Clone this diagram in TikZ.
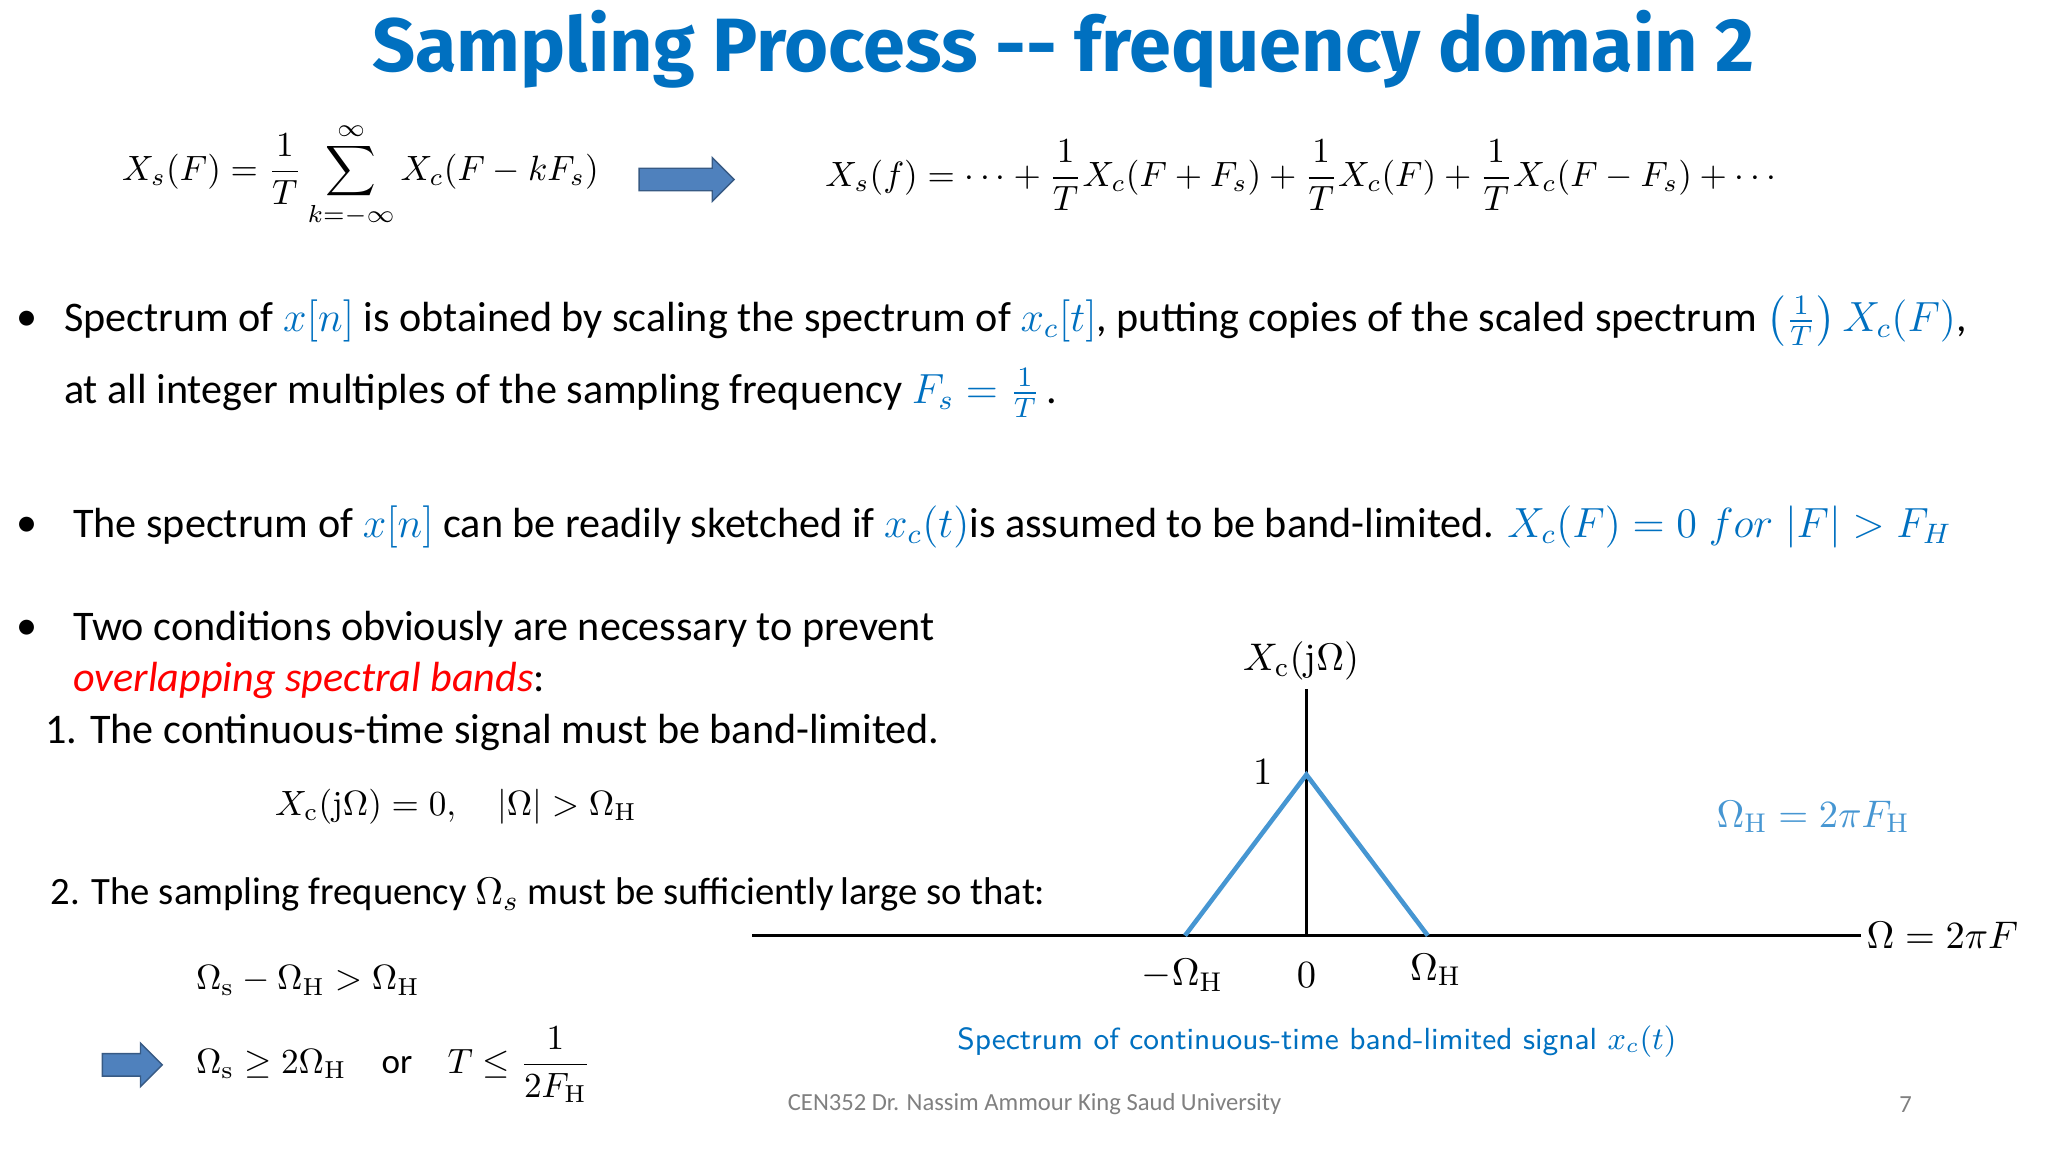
\documentclass[tikz,border=0pt]{standalone}
\usepackage{amsmath}
\usepackage{fontspec}
\setmainfont{Carlito}
\setmathrm{Latin Modern Roman}
\newfontfamily\titlefont{Fira Sans}
\usetikzlibrary{positioning, shapes.arrows}
\definecolor{slideblue}{RGB}{0,112,192}
\definecolor{plotblue}{RGB}{70,150,210}
\definecolor{arrowblue}{RGB}{79,129,189}
\tikzset{
  body/.style={anchor=west, inner sep=0pt, font=\fontsize{12}{14}\selectfont},
  eqn/.style={anchor=west, inner sep=0pt, font=\fontsize{10}{12}\selectfont},
  plotlabel/.style={font=\fontsize{11}{13}\selectfont},
  blockarrow/.style={single arrow, draw=arrowblue!70!black, fill=arrowblue, minimum height=#1, single arrow head extend=3pt, inner sep=3pt},
}
\newcommand{\bl}[1]{\textcolor{slideblue}{#1}}
\begin{document}
\begin{tikzpicture}[x=0.0132cm, y=-0.0132cm]
  \useasboundingbox (0,5) rectangle (1552,878);
  % Title
  \node (title) at (806,42) {\titlefont\bfseries\fontsize{21.5}{26}\selectfont\color{slideblue}Sampling Process -- frequency domain 2};

  % Equations
  \node (eqA) [eqn] at (92,138) {$X_s(F)=\dfrac{1}{T}\displaystyle\sum_{k=-\infty}^{\infty}X_c(F-kF_s)$};
  \node (arrowA) [blockarrow=0.95cm] at (516,141) {};
  \node (eqB) [eqn] at (625,138) {$X_s(f)=\cdots+\dfrac{1}{T}X_c(F+F_s)+\dfrac{1}{T}X_c(F)+\dfrac{1}{T}X_c(F-F_s)+\cdots$};

  % Bullets
  \node (dot1) [body] at (12,248) {•};
  \node (line1) [body] at (48,248) {Spectrum of \bl{$x[n]$} is obtained by scaling the spectrum of \bl{$x_c[t]$}, putting copies of the scaled spectrum \bl{$\left(\frac{1}{T}\right)X_c(F)$},};
  \node (line2) [body] at (48,303) {at all integer multiples of the sampling frequency \bl{$F_s=\frac{1}{T}$}\,.};
  \node (dot2) [body] at (12,404) {•};
  \node (line3) [body] at (55,404) {The spectrum of \bl{$x[n]$} can be readily sketched if \bl{$x_c(t)$}is assumed to be band-limited. \bl{$X_c(F)=0\;for\;|F|>F_H$}};
  \node (dot3) [body] at (12,482) {•};
  \node (line4) [body] at (55,482) {Two conditions obviously are necessary to prevent};
  \node (line5) [body] at (55,521) {\textcolor{red}{\itshape overlapping spectral bands}:};
  \node (cond1) [body] at (34,560) {1. The continuous-time signal must be band-limited.};
  \node (eqC) [eqn] at (208,616) {$X_{\mathrm c}(\mathrm j\Omega)=0,\quad |\Omega|>\Omega_{\mathrm H}$};
  \node (cond2) [body, font=\fontsize{11}{13}\selectfont] at (38,683) {2. The sampling frequency $\Omega_s$ must be sufficiently\,large so that:};
  \node (eqD) [eqn] at (148,748) {$\Omega_{\mathrm s}-\Omega_{\mathrm H}>\Omega_{\mathrm H}$};
  \node (arrowB) [blockarrow=0.6cm] at (96,812) {};
  \node (eqE) [eqn] at (148,812) {$\Omega_{\mathrm s}\ge 2\Omega_{\mathrm H}\quad\text{or}\quad T\le\dfrac{1}{2F_{\mathrm H}}$};

  % Spectrum plot
  \draw[thick] (570,714) -- (1410,714);
  \draw[thick] (990,714) -- (990,527);
  \draw[plotblue, line width=1.3pt] (898,714) -- (990,592) -- (1082,714);
  \node (yname) [plotlabel] at (986,506) {$X_{\mathrm c}(\mathrm j\Omega)$};
  \node (one) [plotlabel] at (957,590) {$1$};
  \node (xname) [plotlabel, anchor=west, inner sep=0pt] at (1414,714) {$\Omega=2\pi F$};
  \node (negH) [plotlabel] at (896,744) {$-\Omega_{\mathrm H}$};
  \node (zero) [plotlabel] at (990,744) {$0$};
  \node (posH) [plotlabel] at (1088,740) {$\Omega_{\mathrm H}$};
  \node (relH) [plotlabel] at (1374,624) {\color{plotblue}$\Omega_{\mathrm H}=2\pi F_{\mathrm H}$};
  \node (caption) at (998,794) {\sffamily\fontsize{8.7}{11}\selectfont\color{slideblue}Spectrum of continuous-time band-limited signal $x_c(t)$};

  % Footer
  \node (footer) at (784,842) {\fontsize{7}{9}\selectfont\color{gray}CEN352 Dr. Nassim Ammour King Saud University};
  \node (page) at (1444,842) {\fontsize{7}{9}\selectfont\color{gray}7};
\end{tikzpicture}
\end{document}
